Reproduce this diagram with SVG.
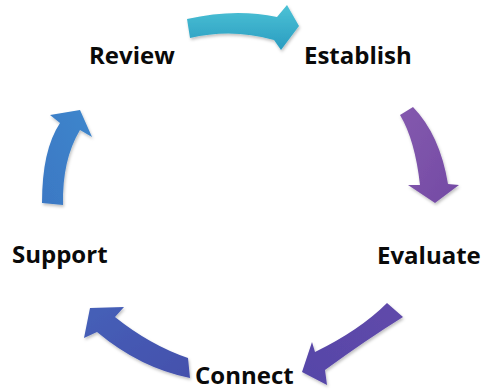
<svg xmlns="http://www.w3.org/2000/svg" width="481" height="391" viewBox="0 0 481 391">
<style>
.lbl{font-family:"Open Sans","DejaVu Sans",sans-serif;font-weight:700;font-size:24px;fill:#0a0a0a}
.arr{filter:url(#sh)}
</style>
<defs>
<filter id="sh" x="-20%" y="-20%" width="140%" height="140%"><feDropShadow dx="1" dy="2" stdDeviation="1.5" flood-color="#000" flood-opacity="0.25"/></filter>
<linearGradient id="g1" x1="0" y1="0" x2="0" y2="1"><stop offset="0" stop-color="#4cc2d6"/><stop offset="1" stop-color="#2a9cc0"/></linearGradient>
<linearGradient id="g2" x1="0" y1="0" x2="1" y2="1"><stop offset="0" stop-color="#8459ae"/><stop offset="1" stop-color="#734aa4"/></linearGradient>
<linearGradient id="g3" x1="1" y1="0" x2="0" y2="1"><stop offset="0" stop-color="#6049aa"/><stop offset="1" stop-color="#5646a8"/></linearGradient>
<linearGradient id="g4" x1="1" y1="1" x2="0" y2="0"><stop offset="0" stop-color="#4450ac"/><stop offset="1" stop-color="#4560b8"/></linearGradient>
<linearGradient id="g5" x1="0" y1="1" x2="1" y2="0"><stop offset="0" stop-color="#3b78c4"/><stop offset="1" stop-color="#3e86cc"/></linearGradient>
</defs>
<rect width="481" height="391" fill="#fff"/>
<g id="connectors">
<path class="arr" fill="url(#g1)" d="M187,19 Q235,8 277,17 L287,5 L299,26 L281,50 L274,40 Q232,28 190,38 Z"/>
<path class="arr" fill="url(#g2)" d="M413,107 Q440,135 448,184 L459,185 L435,203 L408,185 L420,185 Q415,140 400,115 Z"/>
<path class="arr" fill="url(#g3)" d="M387,303 Q360,330 315,352 L312,342 L302,372 L327,385 L325,370 Q366,340 403,317 Z"/>
<path class="arr" fill="url(#g4)" d="M188,358 Q150,345 115,317 L124,307 L90,308 L84,338 L97,332 Q140,368 190,378 Z"/>
<path class="arr" fill="url(#g5)" d="M42,203 Q42,150 60,123 L50,115 L80,110 L92,137 L80,130 Q62,160 63,205 Z"/>
</g>
<g id="review"><text class="lbl" x="89" y="64">Review</text></g>
<g id="establish"><text class="lbl" x="304" y="64">Establish</text></g>
<g id="evaluate"><text class="lbl" x="377" y="264">Evaluate</text></g>
<g id="connect"><text class="lbl" x="195" y="384">Connect</text></g>
<g id="support"><text class="lbl" x="12" y="263">Support</text></g>
</svg>
